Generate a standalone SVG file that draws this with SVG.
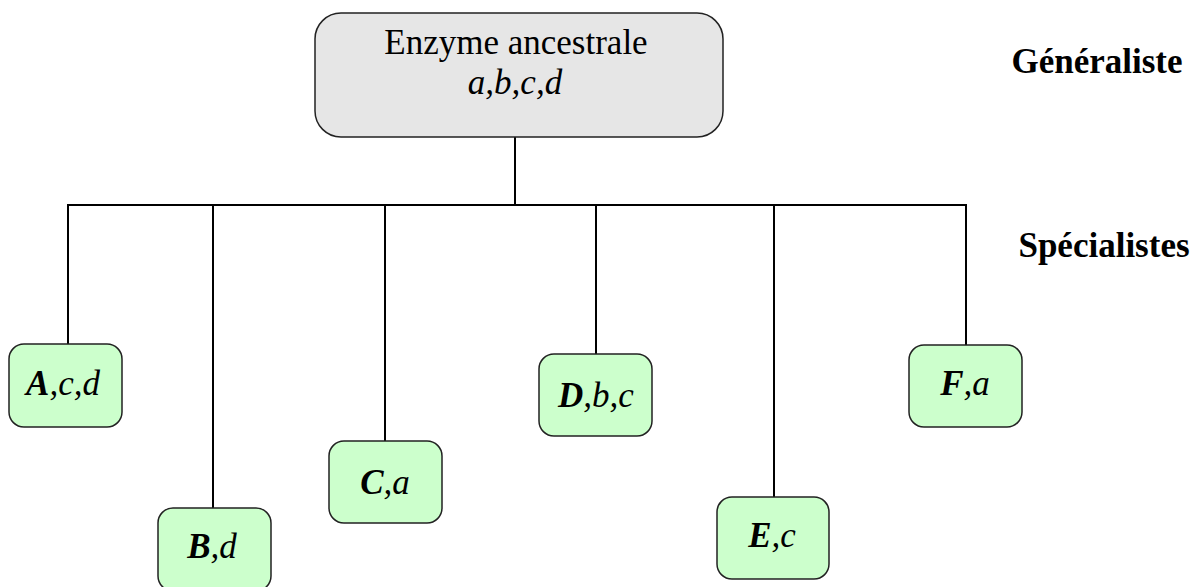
<svg xmlns="http://www.w3.org/2000/svg" width="1199" height="587" viewBox="0 0 1199 587">
<style>
.root{fill:#e6e6e6;stroke:#222;stroke-width:1.5}
.leaf{fill:#ccffcc;stroke:#222;stroke-width:1.5}
text{font-family:'Liberation Serif',serif;font-size:35px;fill:#000;text-anchor:middle}
.i{font-style:italic}
.b{font-weight:bold}
.conn line{stroke:#000;stroke-width:2}
</style>
<rect width="1199" height="587" fill="#fff"/>
<g class="conn" id="connectors">
<line x1="515" y1="137" x2="515" y2="205"/>
<line x1="67" y1="205" x2="967" y2="205"/>
<line x1="68" y1="205" x2="68" y2="344"/>
<line x1="213" y1="205" x2="213" y2="508"/>
<line x1="385" y1="205" x2="385" y2="441"/>
<line x1="596" y1="205" x2="596" y2="354"/>
<line x1="774" y1="205" x2="774" y2="497"/>
<line x1="966" y1="205" x2="966" y2="345"/>
</g>
<g id="root">
<rect class="root" x="315" y="13" width="408" height="124" rx="26"/>
<text x="516" y="54">Enzyme ancestrale</text>
<text class="i" x="515" y="94">a,b,c,d</text>
</g>
<g id="nodeA">
<rect class="leaf" x="9" y="344" width="113" height="83" rx="15"/>
<text class="i" x="63" y="395"><tspan class="b">A</tspan>,c,d</text>
</g>
<g id="nodeB">
<rect class="leaf" x="158" y="508" width="113" height="83" rx="15"/>
<text class="i" x="212" y="558"><tspan class="b">B</tspan>,d</text>
</g>
<g id="nodeC">
<rect class="leaf" x="329" y="441" width="113" height="82" rx="15"/>
<text class="i" x="385" y="494"><tspan class="b">C</tspan>,a</text>
</g>
<g id="nodeD">
<rect class="leaf" x="539" y="354" width="113" height="82" rx="15"/>
<text class="i" x="596" y="407"><tspan class="b">D</tspan>,b,c</text>
</g>
<g id="nodeE">
<rect class="leaf" x="717" y="497" width="112" height="82" rx="15"/>
<text class="i" x="772" y="547"><tspan class="b">E</tspan>,c</text>
</g>
<g id="nodeF">
<rect class="leaf" x="909" y="345" width="113" height="82" rx="15"/>
<text class="i" x="965" y="395"><tspan class="b">F</tspan>,a</text>
</g>
<g id="labels">
<text class="b" x="1097" y="73">Généraliste</text>
<text class="b" x="1104" y="257">Spécialistes</text>
</g>
</svg>
